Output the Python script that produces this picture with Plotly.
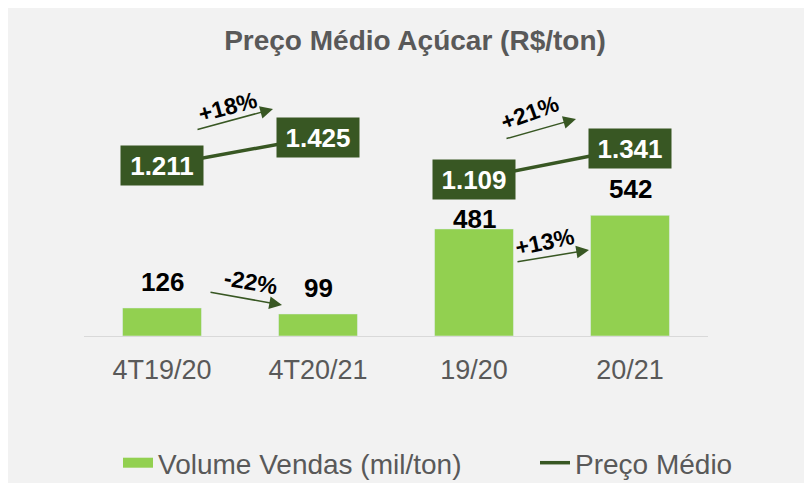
import plotly.graph_objects as go

# ---- data ----
categories = ["4T19/20", "4T20/21", "19/20", "20/21"]
volume = [126, 99, 481, 542]            # mil/ton
preco = [1211, 1425, 1109, 1341]        # R$/ton
variacoes = ["+18%", "-22%", "+21%", "+13%"]

title_text = "Preço Médio Açúcar (R$/ton)"
name_vol = "Volume Vendas (mil/ton)"
name_preco = "Preço Médio"

# ---- style ----
OFF = 8                      # page body margin of the html page
W, H = 812 - OFF, 483 - OFF  # figure size
# plot area in screenshot pixels: x 84..708, y 80..336
ML, MR, MT, MB = 84 - OFF, W - (708 - OFF), 80 - OFF, H - (336 - OFF)
PW, PH = W - ML - MR, H - MT - MB
BG = "#f2f2f2"
BAR = "#92d050"
DARK = "#385723"
GRAY = "#595959"
FONT = "Liberation Sans, Arial, sans-serif"


def px_x(px):
    """screenshot pixel x -> paper x"""
    return (px - OFF - ML) / PW


def px_y(py):
    """screenshot pixel y -> paper y"""
    return (H - MB - (py - OFF)) / PH


def fmt(v):
    return f"{v:,}".replace(",", ".")


fig = go.Figure()

fig.add_trace(go.Bar(
    x=categories, y=volume, marker_color=BAR, width=0.506,
    showlegend=False, name=name_vol, yaxis="y",
))
# legend stand-in for the bar series (wide swatch)
fig.add_trace(go.Scatter(
    x=[None], y=[None], mode="lines", line=dict(color=BAR, width=15),
    name=name_vol, showlegend=True, legendwidth=372,
))
line_x = categories[:2] + [None] + categories[2:]
line_y = preco[:2] + [None] + preco[2:]
fig.add_trace(go.Scatter(
    x=line_x, y=line_y, mode="lines", yaxis="y2",
    line=dict(color=DARK, width=3.5), connectgaps=False, name=name_preco,
))

annotations = []
# value labels on bars
label_shift = [26, 26, 10, 26]
for c, v, s in zip(categories, volume, label_shift):
    annotations.append(dict(
        x=c, y=v, xref="x", yref="y", text=f"<b>{v}</b>", showarrow=False,
        yanchor="middle", yshift=s, font=dict(size=26, color="black", family=FONT),
    ))
# price boxes
for c, v in zip(categories, preco):
    annotations.append(dict(
        x=c, y=v, xref="x", yref="y2", text=f"<b>{fmt(v)}</b>", showarrow=False,
        xanchor="center", yanchor="middle", bgcolor=DARK, borderpad=4,
        width=74, height=31,
        font=dict(size=26, color="white", family=FONT),
    ))

# variation arrows (tail, tip in screenshot pixels) and labels
arrows = [((196, 130), (273, 109)), ((209, 292), (282, 305)),
          ((505, 139), (576, 119)), ((516, 262), (589, 250))]
label_pos = [(227, 107, -15), (251, 282, 10), (529, 113, -20), (544, 242, -12)]
for (tail, tip) in arrows:
    annotations.append(dict(
        x=px_x(tip[0]), y=px_y(tip[1]), xref="paper", yref="paper",
        ax=tail[0] - tip[0], ay=tail[1] - tip[1], axref="pixel", ayref="pixel",
        text="", showarrow=True, arrowhead=2, arrowsize=1.7, arrowwidth=1.5,
        arrowcolor=DARK, standoff=0,
    ))
for t, (lx, ly, ang) in zip(variacoes, label_pos):
    annotations.append(dict(
        x=px_x(lx), y=px_y(ly), xref="paper", yref="paper", text=f"<b>{t}</b>",
        showarrow=False, textangle=ang, xanchor="center", yanchor="middle",
        font=dict(size=23, color="black", family=FONT),
    ))

fig.update_layout(
    width=W, height=H,
    margin=dict(l=ML, r=MR, t=MT, b=MB, pad=0, autoexpand=False),
    paper_bgcolor=BG, plot_bgcolor="rgba(0,0,0,0)",
    font=dict(family=FONT, color=GRAY),
    title=dict(text=f"<b>{title_text}</b>", x=(415 - OFF) / W, xref="container",
               y=1 - (40 - OFF) / H, yref="container", xanchor="center",
               yanchor="middle", font=dict(size=28, color=GRAY, family=FONT)),
    xaxis=dict(type="category", showline=True, linecolor="#d9d9d9", linewidth=1,
               ticks="", showgrid=False, tickfont=dict(size=27, color=GRAY),
               ticklabelstandoff=10),
    yaxis=dict(range=[0, 1150], visible=False, showgrid=False, zeroline=False),
    yaxis2=dict(range=[-72, 1854], overlaying="y", side="right", visible=False,
                showgrid=False, zeroline=False),
    bargap=0.494,
    legend=dict(orientation="h", x=px_x(118), xanchor="left", y=px_y(463),
                yanchor="middle", font=dict(size=28, color=GRAY, family=FONT),
                bgcolor="rgba(0,0,0,0)", traceorder="normal"),
    annotations=annotations,
)

fig.write_html("out.html")
